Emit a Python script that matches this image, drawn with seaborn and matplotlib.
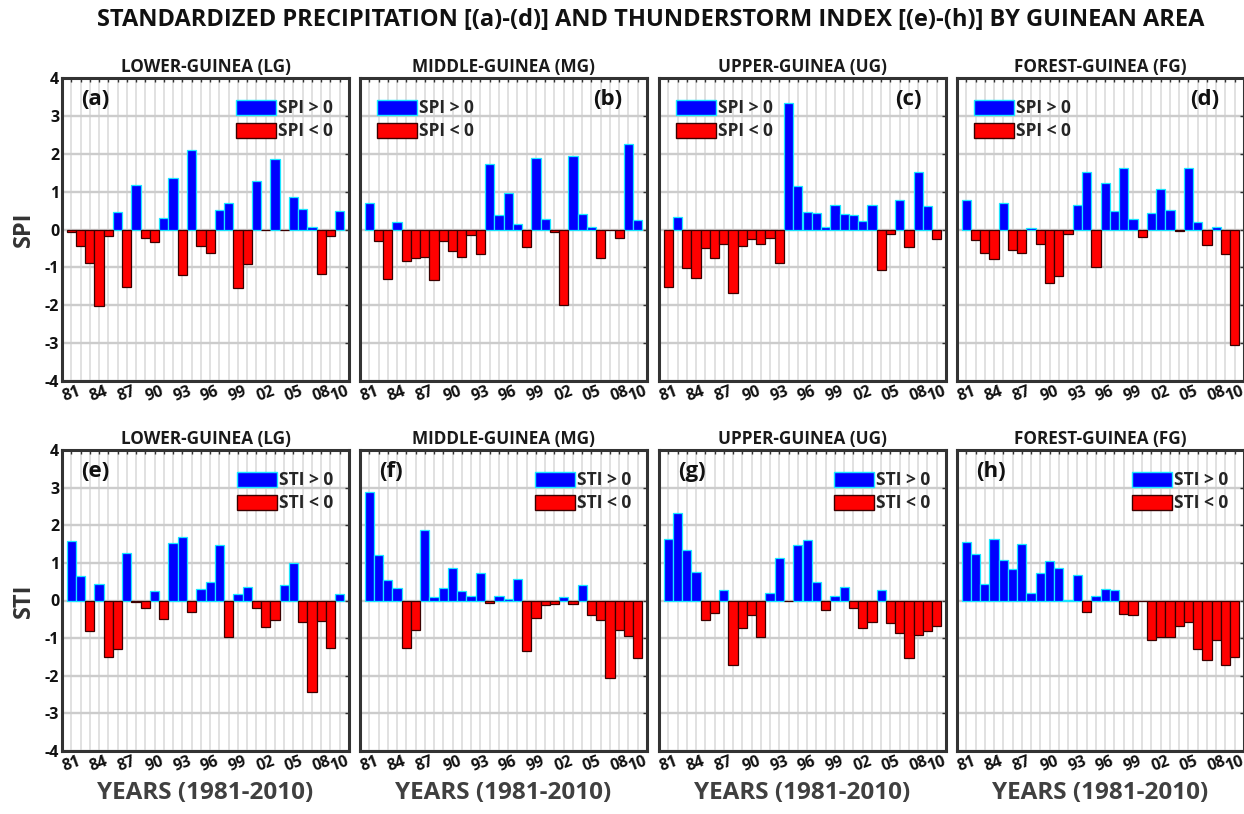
import matplotlib
matplotlib.use("Agg")
import matplotlib.pyplot as plt
from matplotlib.patches import Patch
import numpy as np
import pandas as pd
import seaborn as sns

# ---- data -------------------------------------------------------------
years = list(range(1981, 2011))
tick_years = [1981, 1984, 1987, 1990, 1993, 1996, 1999, 2002, 2005, 2008, 2010]

regions = ["LOWER-GUINEA (LG)", "MIDDLE-GUINEA (MG)", "UPPER-GUINEA (UG)", "FOREST-GUINEA (FG)"]

spi_lg = [-0.07, -0.43, -0.88, -2.02, -0.18, 0.47, -1.52, 1.18, -0.22, -0.33,
          0.30, 1.35, -1.20, 2.10, -0.43, -0.61, 0.51, 0.71, -1.54, -0.90,
          1.27, -0.02, 1.86, -0.01, 0.86, 0.53, 0.07, -1.18, -0.18, 0.50]
spi_mg = [0.71, -0.31, -1.30, 0.19, -0.84, -0.75, -0.73, -1.33, -0.31, -0.58,
          -0.73, -0.15, -0.65, 1.73, 0.37, 0.96, 0.15, -0.46, 1.88, 0.27,
          -0.07, -1.99, 1.93, 0.42, 0.07, -0.76, -0.02, -0.23, 2.27, 0.24]
spi_ug = [-1.52, 0.33, -1.01, -1.27, -0.48, -0.74, -0.37, -1.67, -0.43, -0.25,
          -0.39, -0.22, -0.88, 3.34, 1.15, 0.47, 0.43, 0.07, 0.66, 0.41,
          0.37, 0.23, 0.66, -1.07, -0.13, 0.77, -0.45, 1.51, 0.63, -0.24]
spi_fg = [0.77, -0.27, -0.62, -0.78, 0.71, -0.53, -0.62, 0.05, -0.37, -1.40,
          -1.22, -0.13, 0.65, 1.51, -0.99, 1.24, 0.50, 1.62, 0.28, -0.19,
          0.43, 1.08, 0.51, -0.05, 1.62, 0.19, -0.42, 0.07, -0.66, -3.05]

sti_lg = [1.58, 0.65, -0.80, 0.43, -1.50, -1.28, 1.27, -0.04, -0.20, 0.24,
          -0.48, 1.52, 1.69, -0.31, 0.31, 0.50, 1.48, -0.98, 0.18, 0.37,
          -0.19, -0.71, -0.52, 0.41, 0.99, -0.58, -2.44, -0.54, -1.27, 0.18]
sti_mg = [2.89, 1.22, 0.55, 0.33, -1.27, -0.79, 1.88, 0.08, 0.33, 0.87,
          0.24, 0.13, 0.73, -0.06, 0.13, 0.04, 0.58, -1.34, -0.47, -0.13,
          -0.09, 0.09, -0.10, 0.42, -0.39, -0.51, -2.07, -0.79, -0.94, -1.53]
sti_ug = [1.63, 2.33, 1.34, 0.75, -0.53, -0.34, 0.27, -1.71, -0.74, -0.39,
          -0.98, 0.21, 1.14, -0.01, 1.48, 1.61, 0.48, -0.26, 0.13, 0.37,
          -0.21, -0.73, -0.58, 0.27, -0.61, -0.86, -1.53, -0.92, -0.80, -0.67]
sti_fg = [1.55, 1.24, 0.43, 1.64, 1.07, 0.84, 1.50, 0.19, 0.73, 1.04,
          0.86, 0.01, 0.69, -0.30, 0.13, 0.31, 0.27, -0.36, -0.39, -0.01,
          -1.05, -0.96, -0.96, -0.68, -0.56, -1.28, -1.58, -1.06, -1.71, -1.51]

spi_series = [spi_lg, spi_mg, spi_ug, spi_fg]
sti_series = [sti_lg, sti_mg, sti_ug, sti_fg]
panel_tags = ["(a)", "(b)", "(c)", "(d)", "(e)", "(f)", "(g)", "(h)"]

# ---- style -------------------------------------------------------------
sns.set_style("white")
plt.rcParams["font.family"] = ["Open Sans", "DejaVu Sans"]
plt.rcParams["font.weight"] = "bold"

POS_COLOR, POS_EDGE = "#0000ff", "#19e6ff"
NEG_COLOR, NEG_EDGE = "#ff0000", "#3a0000"
FRAME = "#333333"

W, H = 1244, 814
fig = plt.figure(figsize=(W / 100, H / 100), dpi=100)

col_left = [62, 360, 659, 957]
col_width = 287
row_box = [(78, 381), (450, 751)]


def fig_rect(x0, y_top, w, y_bot):
    return [x0 / W, 1 - y_bot / H, w / W, (y_bot - y_top) / H]


def draw_panel(ax, values, index_name, tag, tag_right, legend_right, show_ylabels):
    pos_lab, neg_lab = f"{index_name} > 0", f"{index_name} < 0"
    df = pd.DataFrame({
        "year": years,
        "value": values,
        "sign": [pos_lab if v > 0 else neg_lab for v in values],
    })
    sns.barplot(data=df, x="year", y="value", hue="sign",
                hue_order=[pos_lab, neg_lab], palette=[POS_COLOR, NEG_COLOR],
                dodge=False, width=1.0, saturation=1, legend=False,
                linewidth=0.9, ax=ax)
    for p in ax.patches:
        p.set_edgecolor(POS_EDGE if p.get_height() > 0 else NEG_EDGE)

    ax.set_xlim(-1, len(years))
    ax.set_ylim(-4, 4)
    ax.set_xticks(range(len(years)))
    ax.set_xticklabels([f"{y % 100:02d}" if y in tick_years else "" for y in years],
                       rotation=20, fontsize=11.5, fontweight="bold")
    ax.set_yticks(range(-4, 5))
    if show_ylabels:
        ax.set_yticklabels([str(v) for v in range(-4, 5)], fontsize=11.5, fontweight="bold")
    else:
        ax.set_yticklabels([])
    ax.tick_params(direction="in", length=3, width=1, color=FRAME,
                   top=True, right=True, pad=2, labelcolor="#111111")
    ax.set_xlabel("")
    ax.set_ylabel("")

    ax.set_axisbelow(True)
    ax.xaxis.grid(True, color="#dedede", lw=1.3)
    ax.yaxis.grid(True, color="#cccccc", lw=1.7)
    for s in ax.spines.values():
        s.set_color(FRAME)
        s.set_linewidth(2.2)

    if tag_right:
        ax.text(0.915, 0.965, tag, transform=ax.transAxes, ha="right", va="top",
                fontsize=16, fontweight="bold", color="#111111")
    else:
        ax.text(0.068, 0.965, tag, transform=ax.transAxes, ha="left", va="top",
                fontsize=16, fontweight="bold", color="#111111")

    handles = [Patch(facecolor=POS_COLOR, edgecolor=POS_EDGE, lw=1, label=pos_lab),
               Patch(facecolor=NEG_COLOR, edgecolor=NEG_EDGE, lw=1, label=neg_lab)]
    if legend_right:
        loc, anchor = "upper right", (0.945, 0.93)
    else:
        loc, anchor = "upper left", (0.06, 0.93)
    ax.legend(handles=handles, loc=loc, bbox_to_anchor=anchor, frameon=False,
              borderaxespad=0, borderpad=0, handlelength=2.3, handleheight=0.95,
              handletextpad=0.12, labelspacing=0.3,
              prop={"size": 12.5, "weight": "bold"})


for r, (series, name) in enumerate([(spi_series, "SPI"), (sti_series, "STI")]):
    y_top, y_bot = row_box[r]
    for c in range(4):
        ax = fig.add_axes(fig_rect(col_left[c], y_top, col_width, y_bot))
        tag_idx = r * 4 + c
        tag_right = (r == 0 and c > 0)
        legend_right = not tag_right
        draw_panel(ax, series[c], name, panel_tags[tag_idx], tag_right, legend_right, c == 0)
        ax.set_title(regions[c], fontsize=12.3, fontweight="bold", color="#1a1a1a", pad=4)
        if r == 1:
            ax.set_xlabel("YEARS (1981-2010)", fontsize=17.5, fontweight="bold",
                          color="#404040", labelpad=4)
        if c == 0:
            ax.set_ylabel(name, fontsize=17, fontweight="bold", color="#333333", labelpad=6)

fig.suptitle("STANDARDIZED PRECIPITATION [(a)-(d)] AND THUNDERSTORM INDEX [(e)-(h)] BY GUINEAN AREA",
             x=0.523, y=0.99, fontsize=17, fontweight="bold", color="#111111")

fig.savefig("out.png", dpi=100, facecolor="white")
